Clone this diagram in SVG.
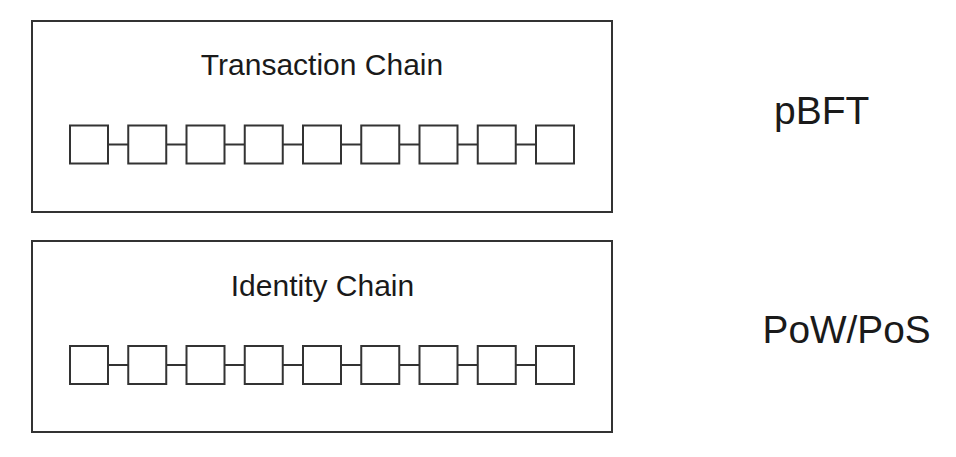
<svg xmlns="http://www.w3.org/2000/svg" width="956" height="457" viewBox="0 0 956 457">
<style>
.frame{fill:#fff;stroke:#333;stroke-width:2}
.blk{fill:#fff;stroke:#333;stroke-width:2}
.link{stroke:#333;stroke-width:2;fill:none}
.t{font-family:"Liberation Sans",Arial,sans-serif;fill:#1a1a1a}
</style>
<rect width="956" height="457" fill="#fff"/>
<defs>
<g id="chain">
<line class="link" x1="108" y1="0" x2="536" y2="0"/>
<rect class="blk" x="70" y="-19" width="38" height="38"/>
<rect class="blk" x="128.25" y="-19" width="38" height="38"/>
<rect class="blk" x="186.5" y="-19" width="38" height="38"/>
<rect class="blk" x="244.75" y="-19" width="38" height="38"/>
<rect class="blk" x="303" y="-19" width="38" height="38"/>
<rect class="blk" x="361.25" y="-19" width="38" height="38"/>
<rect class="blk" x="419.5" y="-19" width="38" height="38"/>
<rect class="blk" x="477.75" y="-19" width="38" height="38"/>
<rect class="blk" x="536" y="-19" width="38" height="38"/>
</g>
</defs>
<g id="transaction-chain">
<rect class="frame" x="32" y="21" width="580" height="191"/>
<text class="t" x="322" y="75" font-size="30" text-anchor="middle">Transaction Chain</text>
<use href="#chain" transform="translate(0,144.5)"/>
</g>
<g id="identity-chain">
<rect class="frame" x="32" y="241" width="580" height="191"/>
<text class="t" x="322.5" y="296" font-size="30" text-anchor="middle">Identity Chain</text>
<use href="#chain" transform="translate(0,365)"/>
</g>
<g id="pbft">
<text class="t" x="774" y="124" font-size="39">pBFT</text>
</g>
<g id="pow-pos">
<text class="t" x="762.5" y="343" font-size="38.8">PoW/PoS</text>
</g>
</svg>
